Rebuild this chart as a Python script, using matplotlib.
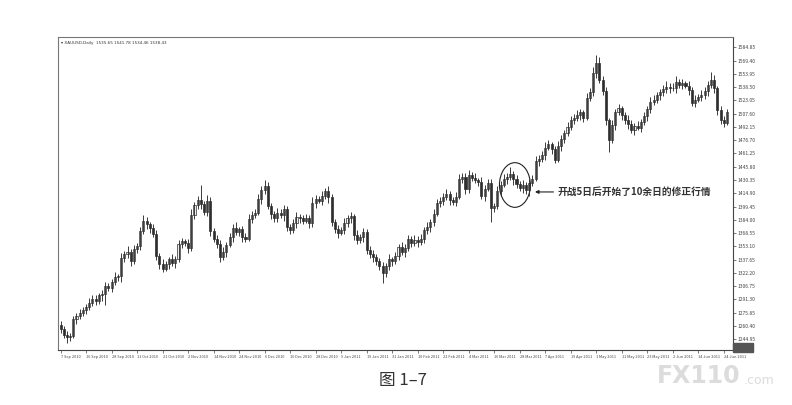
import numpy as np
import matplotlib
matplotlib.use("Agg")
import matplotlib.pyplot as plt
from matplotlib.patches import Ellipse, Rectangle

plt.rcParams['font.family'] = ['Noto Sans CJK SC', 'DejaVu Sans']

# XAUUSD daily closes (price units)
closes = [
    1257, 1250, 1247, 1249, 1268, 1272, 1275, 1279, 1283, 1287,
    1292, 1290, 1296, 1298, 1307, 1305, 1311, 1317, 1318, 1340,
    1344, 1347, 1336, 1350, 1353, 1371, 1383, 1379, 1374, 1368,
    1342, 1333, 1327, 1332, 1338, 1334, 1338, 1356, 1359, 1357,
    1351, 1390, 1401, 1407, 1402, 1393, 1406, 1371, 1362, 1356,
    1341, 1346, 1355, 1364, 1375, 1370, 1373, 1364, 1362, 1385,
    1390, 1392, 1408, 1419, 1423, 1400, 1391, 1386, 1392, 1389,
    1396, 1376, 1372, 1380, 1387, 1386, 1383, 1386, 1380, 1404,
    1408, 1406, 1412, 1418, 1410, 1382, 1373, 1369, 1372, 1380,
    1386, 1388, 1366, 1360, 1364, 1370, 1349, 1344, 1341, 1336,
    1330, 1322, 1330, 1338, 1336, 1342, 1352, 1347, 1351, 1362,
    1357, 1361, 1358, 1362, 1372, 1376, 1382, 1391, 1403, 1406,
    1410, 1414, 1407, 1405, 1411, 1431, 1434, 1420, 1436, 1433,
    1430, 1428, 1412, 1420, 1427, 1398, 1400, 1418, 1425, 1431,
    1434, 1437, 1431, 1426, 1421, 1424, 1419, 1427, 1432, 1452,
    1455, 1460, 1468, 1472, 1466, 1454, 1470, 1478, 1485, 1492,
    1500, 1503, 1506, 1509, 1503, 1526, 1533, 1555, 1567, 1547,
    1534, 1500, 1477, 1494, 1509, 1514, 1506, 1500, 1495, 1489,
    1493, 1491, 1498, 1505, 1513, 1521, 1524, 1529, 1533, 1536,
    1539, 1537, 1538, 1544, 1541, 1543, 1540, 1535, 1520, 1524,
    1527, 1529, 1534, 1541, 1547, 1537, 1512, 1500, 1497, 1509,
]
first_open = 1262

# wick lengths above / below the body
upper_wick = [
    4, 3, 5, 3, 4, 3, 5, 4, 3, 6,
    4, 5, 3, 4, 5, 3, 4, 6, 3, 5,
    4, 6, 3, 5, 4, 5, 7, 4, 3, 5,
    4, 3, 5, 4, 3, 6, 4, 5, 4, 3,
    5, 6, 4, 5, 18, 4, 7, 5, 3, 4,
    4, 6, 3, 5, 4, 6, 3, 4, 5, 6,
    4, 5, 6, 4, 7, 5, 4, 3, 6, 4,
    5, 4, 3, 5, 6, 4, 3, 5, 4, 6,
    5, 4, 6, 3, 5, 4, 3, 5, 4, 6,
    4, 5, 3, 6, 4, 5, 3, 4, 5, 3,
    4, 5, 4, 6, 3, 5, 4, 6, 5, 4,
    3, 5, 4, 6, 4, 5, 3, 6, 5, 4,
    5, 6, 4, 3, 5, 6, 4, 5, 6, 4,
    5, 3, 6, 4, 5, 4, 3, 5, 4, 6,
    5, 8, 4, 5, 3, 6, 4, 5, 4, 6,
    5, 4, 6, 5, 3, 4, 6, 5, 4, 6,
    5, 4, 6, 4, 3, 6, 5, 7, 9, 6,
    4, 5, 3, 6, 4, 5, 3, 4, 6, 5,
    4, 6, 3, 5, 4, 6, 5, 4, 3, 5,
    6, 4, 5, 7, 4, 5, 3, 6, 4, 5,
    4, 6, 5, 4, 9, 5, 3, 4, 5, 4,
]
lower_wick = [
    5, 4, 6, 4, 3, 5, 4, 3, 5, 4,
    3, 5, 4, 6, 13, 4, 5, 3, 4, 6,
    5, 4, 6, 3, 5, 4, 3, 6, 5, 4,
    5, 6, 4, 3, 5, 4, 6, 3, 5, 4,
    6, 3, 5, 4, 6, 4, 5, 6, 4, 5,
    6, 4, 5, 3, 6, 4, 5, 6, 4, 3,
    5, 4, 3, 6, 5, 4, 6, 5, 4, 3,
    6, 5, 4, 3, 5, 6, 4, 3, 5, 4,
    6, 3, 5, 4, 6, 5, 4, 6, 3, 5,
    4, 6, 5, 4, 3, 6, 5, 4, 6, 5,
    4, 12, 5, 4, 6, 3, 5, 4, 6, 3,
    5, 4, 6, 3, 5, 4, 6, 5, 3, 4,
    5, 3, 6, 4, 5, 3, 4, 6, 5, 4,
    3, 5, 4, 6, 3, 16, 5, 4, 6, 3,
    5, 4, 6, 5, 4, 6, 5, 7, 4, 3,
    5, 4, 6, 3, 5, 4, 3, 6, 5, 4,
    3, 5, 4, 6, 5, 3, 4, 5, 6, 4,
    5, 6, 14, 4, 5, 3, 6, 4, 5, 4,
    6, 3, 5, 4, 6, 5, 3, 4, 6, 5,
    4, 5, 3, 6, 4, 5, 3, 6, 4, 5,
    3, 5, 4, 6, 4, 5, 6, 4, 5, 3,
]

date_labels = [
    "7 Sep 2010", "16 Sep 2010", "28 Sep 2010", "11 Oct 2010", "21 Oct 2010",
    "2 Nov 2010", "14 Nov 2010", "24 Nov 2010", "6 Dec 2010", "16 Dec 2010",
    "28 Dec 2010", "9 Jan 2011", "19 Jan 2011", "31 Jan 2011", "10 Feb 2011",
    "22 Feb 2011", "4 Mar 2011", "16 Mar 2011", "28 Mar 2011", "7 Apr 2011",
    "19 Apr 2011", "1 May 2011", "11 May 2011", "23 May 2011", "2 Jun 2011",
    "14 Jun 2011", "24 Jun 2011",
]
price_ticks = [
    1584.85, 1569.40, 1553.95, 1538.50, 1523.05, 1507.60, 1492.15, 1476.70,
    1461.25, 1445.80, 1430.35, 1414.90, 1399.45, 1384.00, 1368.55, 1353.10,
    1337.65, 1322.20, 1306.75, 1291.30, 1275.85, 1260.40, 1244.95,
]
header = "XAUUSD,Daily  1535.65 1541.78 1534.46 1538.43"
note = "开战5日后开始了10余日的修正行情"
caption = "图 1–7"

closes = np.array(closes, dtype=float)
opens = np.concatenate([[first_open], closes[:-1]])
highs = np.maximum(opens, closes) + np.array(upper_wick)
lows = np.minimum(opens, closes) - np.array(lower_wick)
idx = np.arange(len(closes))

fig = plt.figure(figsize=(7.92, 4.05), dpi=100)
ax = fig.add_axes([58 / 792, 1 - 350 / 405, (733 - 58) / 792, (350 - 37) / 405])

ink = '#2e2e2e'
ax.vlines(idx, lows, highs, color=ink, lw=0.65)
up = closes >= opens
body = np.maximum(np.abs(closes - opens), 0.8)
ax.bar(idx[up], body[up], bottom=opens[up], width=0.65,
       facecolor='#eeeeee', edgecolor=ink, linewidth=0.5)
ax.bar(idx[~up], body[~up], bottom=closes[~up], width=0.65,
       facecolor=ink, edgecolor=ink, linewidth=0.5)

ax.set_xlim(-0.8, len(closes) + 0.9)
ax.set_ylim(1232.4, 1596.8)

ax.yaxis.tick_right()
ax.set_yticks(price_ticks, [f"{v:.2f}" for v in price_ticks])
ax.tick_params(axis='y', labelsize=3.6, length=2, width=0.5, pad=1.5,
               colors='#444')
ax.set_xticks(np.arange(0, len(closes), 8)[:len(date_labels)], date_labels)
ax.tick_params(axis='x', labelsize=2.8, length=2, width=0.5, pad=1.5,
               colors='#444')
for lab in ax.get_xticklabels():
    lab.set_ha('left')

for side in ['left', 'top']:
    ax.spines[side].set_color('#777')
    ax.spines[side].set_linestyle((0, (2, 1)))
    ax.spines[side].set_linewidth(0.8)
for side in ['right', 'bottom']:
    ax.spines[side].set_color('#444')
    ax.spines[side].set_linestyle((0, (2, 0.8)))
    ax.spines[side].set_linewidth(0.8)

ax.text(0.004, 0.988, "▾ " + header, transform=ax.transAxes, fontsize=3,
        va='top', ha='left', color='#333', family=['DejaVu Sans'])

# circle around the correction after the war started
ax.add_patch(Ellipse((142.5, 1424.5), 9.7, 52, fill=False,
                     edgecolor='#222', lw=0.8))
ax.annotate('', xy=(148.8, 1416.4), xytext=(154.6, 1416.4),
            arrowprops=dict(arrowstyle='-|>', lw=0.8, color='#222',
                            mutation_scale=5, shrinkA=0, shrinkB=0))
ax.text(155.8, 1416.4, note, fontsize=7, fontweight='bold', va='center',
        ha='left', color='#333')

# dark box under the price scale
fig.patches.append(Rectangle((733 / 792, 1 - 352 / 405), 20 / 792, 9 / 405,
                             transform=fig.transFigure, color='#555'))

fig.text(403 / 792, 1 - 381 / 405, caption, fontsize=12, ha='center',
         va='center', color='#333')
fig.text(657 / 792, 1 - 376 / 405, "FX110", fontsize=17, fontweight='heavy',
         ha='left', va='center', color='#dcdcdc', family=['DejaVu Sans'])
fig.text(744 / 792, 1 - 380 / 405, ".com", fontsize=9, ha='left',
         va='center', color='#dcdcdc', family=['DejaVu Sans'])

fig.savefig("out.png", dpi=100)
